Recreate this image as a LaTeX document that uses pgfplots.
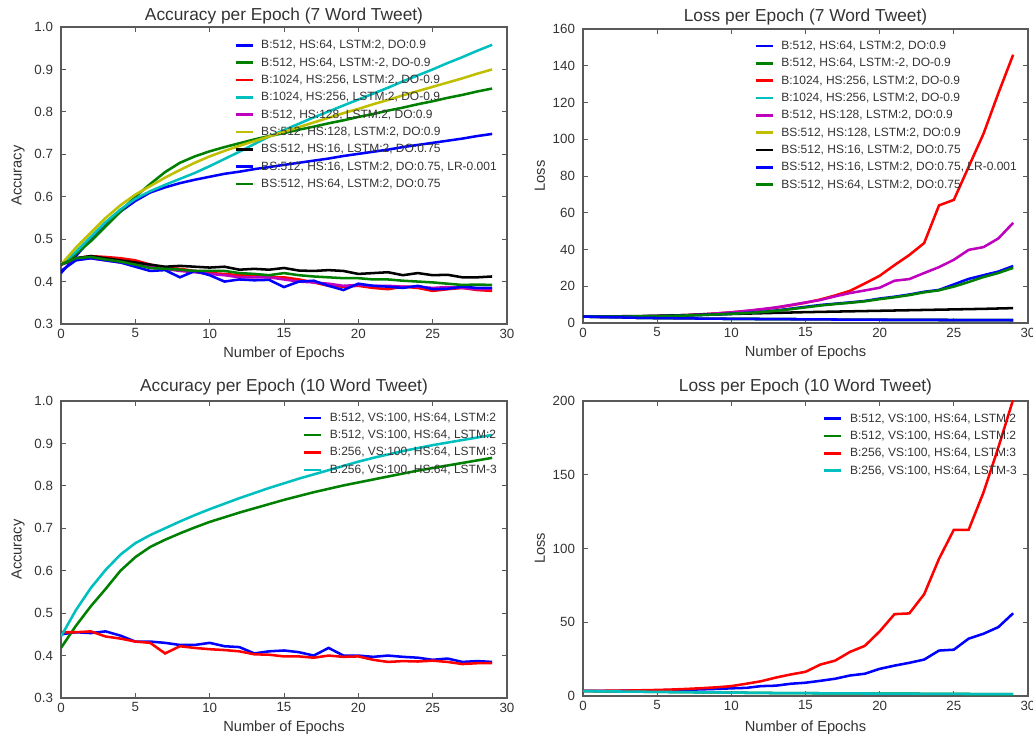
\documentclass[border=0pt]{standalone}
\usepackage{fontspec}
\setmainfont{Liberation Sans}
\usepackage{pgfplots}
\usepackage{pgfplotstable}
\pgfplotsset{compat=1.18}

\definecolor{mplblue}{rgb}{0,0,1}
\definecolor{mplgreen}{rgb}{0,0.5,0}
\definecolor{mplred}{rgb}{1,0,0}
\definecolor{mplcyan}{rgb}{0,0.75,0.75}
\definecolor{mplmag}{rgb}{0.75,0,0.75}
\definecolor{mplyel}{rgb}{0.75,0.75,0}
\definecolor{txt}{gray}{0.2}
\definecolor{frm}{gray}{0.35}

\pgfplotstableread{
ep trb   trg   vr    trc   vm    try   vk    vb    vg
0  0.420 0.440 0.440 0.440 0.440 0.440 0.440 0.425 0.440
1  0.460 0.465 0.455 0.470 0.452 0.480 0.455 0.450 0.455
2  0.500 0.495 0.460 0.505 0.455 0.515 0.460 0.455 0.458
3  0.535 0.530 0.458 0.540 0.450 0.550 0.455 0.450 0.452
4  0.565 0.565 0.455 0.570 0.445 0.580 0.450 0.445 0.447
5  0.590 0.600 0.450 0.595 0.440 0.605 0.445 0.435 0.440
6  0.610 0.630 0.440 0.613 0.435 0.625 0.440 0.425 0.432
7  0.622 0.658 0.432 0.628 0.430 0.645 0.435 0.427 0.430
8  0.632 0.680 0.430 0.642 0.425 0.663 0.437 0.410 0.428
9  0.640 0.695 0.425 0.656 0.422 0.680 0.435 0.425 0.425
10 0.647 0.707 0.420 0.672 0.418 0.695 0.433 0.415 0.425
11 0.654 0.717 0.418 0.689 0.415 0.708 0.435 0.400 0.425
12 0.659 0.726 0.415 0.706 0.410 0.720 0.428 0.405 0.420
13 0.665 0.735 0.413 0.724 0.410 0.731 0.430 0.403 0.418
14 0.670 0.743 0.410 0.742 0.410 0.742 0.428 0.404 0.415
15 0.675 0.750 0.410 0.757 0.405 0.753 0.432 0.387 0.420
16 0.680 0.758 0.405 0.772 0.400 0.764 0.426 0.400 0.415
17 0.685 0.765 0.398 0.787 0.398 0.775 0.425 0.402 0.412
18 0.690 0.773 0.390 0.801 0.395 0.786 0.427 0.390 0.410
19 0.696 0.780 0.388 0.815 0.390 0.797 0.425 0.380 0.408
20 0.701 0.788 0.390 0.829 0.392 0.807 0.418 0.395 0.408
21 0.706 0.795 0.385 0.843 0.390 0.818 0.420 0.390 0.405
22 0.711 0.803 0.382 0.857 0.390 0.828 0.422 0.388 0.405
23 0.717 0.810 0.388 0.872 0.388 0.839 0.415 0.385 0.402
24 0.722 0.818 0.385 0.886 0.388 0.849 0.420 0.390 0.400
25 0.727 0.825 0.378 0.900 0.385 0.859 0.415 0.382 0.398
26 0.732 0.833 0.382 0.915 0.387 0.869 0.416 0.383 0.395
27 0.737 0.840 0.385 0.929 0.385 0.879 0.410 0.388 0.392
28 0.743 0.848 0.380 0.944 0.382 0.890 0.410 0.385 0.393
29 0.748 0.855 0.378 0.958 0.383 0.900 0.412 0.385 0.392
}\accA

\pgfplotstableread{
ep lo   lr    lm    lk    lb    lg
0  3.50 3.5   3.5   3.50  3.50  3.50
1  3.30 3.4   3.4   3.55  3.45  3.45
2  3.10 3.4   3.4   3.60  3.45  3.45
3  2.95 3.5   3.5   3.70  3.50  3.50
4  2.80 3.6   3.6   3.80  3.60  3.60
5  2.70 3.8   3.8   3.90  3.75  3.75
6  2.60 4.0   4.0   4.10  3.90  3.90
7  2.50 4.3   4.3   4.30  4.10  4.10
8  2.42 4.7   4.7   4.50  4.35  4.35
9  2.35 5.2   5.2   4.70  4.65  4.65
10 2.28 5.8   5.8   4.90  5.00  5.00
11 2.22 6.5   6.6   5.10  5.50  5.40
12 2.16 7.3   7.5   5.30  6.00  5.90
13 2.10 8.3   8.5   5.50  6.80  6.60
14 2.05 9.6   9.8   5.70  7.80  7.50
15 2.00 11.0  11.2  5.90  8.80  8.50
16 1.95 12.8  12.5  6.05  9.80  9.50
17 1.90 15.0  14.5  6.20  10.5  10.3
18 1.86 17.5  16.3  6.35  11.2  11.0
19 1.82 21.5  17.7  6.50  12.0  11.8
20 1.78 25.7  19.2  6.65  13.3  13.0
21 1.74 31.5  23.0  6.80  14.3  14.0
22 1.70 37.0  23.9  6.95  15.5  15.2
23 1.67 43.5  27.2  7.10  17.0  16.7
24 1.64 64.0  30.4  7.25  18.0  17.8
25 1.61 67.0  34.4  7.40  21.0  19.8
26 1.58 85.0  39.8  7.55  24.0  22.3
27 1.55 103.0 41.3  7.70  26.0  25.0
28 1.52 125.0 46.0  7.90  28.0  27.2
29 1.50 146.0 54.5  8.10  31.0  30.0
}\lossA

\pgfplotstableread{
ep vb    tg    vr    tc
0  0.450 0.418 0.455 0.445
1  0.455 0.470 0.455 0.507
2  0.453 0.516 0.457 0.559
3  0.457 0.557 0.445 0.602
4  0.447 0.600 0.440 0.638
5  0.433 0.632 0.433 0.665
6  0.433 0.656 0.430 0.684
7  0.430 0.673 0.405 0.700
8  0.425 0.688 0.422 0.716
9  0.425 0.702 0.418 0.731
10 0.430 0.715 0.415 0.745
11 0.422 0.726 0.413 0.758
12 0.420 0.737 0.410 0.771
13 0.405 0.747 0.403 0.783
14 0.410 0.757 0.402 0.795
15 0.412 0.767 0.398 0.806
16 0.408 0.776 0.398 0.817
17 0.400 0.785 0.395 0.827
18 0.418 0.793 0.400 0.837
19 0.400 0.801 0.397 0.847
20 0.400 0.808 0.398 0.857
21 0.397 0.815 0.390 0.866
22 0.400 0.822 0.385 0.874
23 0.397 0.829 0.387 0.882
24 0.395 0.836 0.386 0.889
25 0.390 0.842 0.388 0.896
26 0.393 0.848 0.385 0.902
27 0.385 0.854 0.380 0.908
28 0.387 0.860 0.382 0.914
29 0.385 0.866 0.382 0.920
}\accB

\pgfplotstableread{
ep lb   lg   lr    lc
0  3.5  3.3  3.5   3.3
1  3.5  3.2  3.5   3.2
2  3.5  3.1  3.6   3.1
3  3.6  3.0  3.7   3.0
4  3.7  2.9  3.9   2.9
5  3.8  2.8  4.1   2.8
6  4.0  2.7  4.4   2.7
7  4.2  2.6  4.8   2.6
8  4.5  2.5  5.3   2.5
9  4.8  2.4  5.9   2.4
10 5.2  2.3  6.7   2.3
11 5.5  2.2  8.3   2.2
12 6.7  2.1  10.0  2.1
13 7.0  2.0  12.5  2.0
14 8.3  1.95 14.6  1.95
15 9.0  1.9  16.4  1.9
16 10.3 1.85 21.3  1.85
17 11.7 1.8  24.0  1.8
18 13.9 1.75 29.9  1.75
19 15.1 1.7  34.0  1.7
20 18.4 1.65 43.8  1.65
21 20.6 1.6  55.5  1.6
22 22.5 1.55 56.0  1.55
23 24.7 1.5  69.0  1.5
24 30.8 1.45 93.0  1.45
25 31.4 1.4  112.7 1.4
26 38.9 1.35 112.7 1.35
27 42.2 1.3  138.0 1.3
28 46.7 1.25 168.5 1.25
29 56.1 1.2  201.0 1.2
}\lossB

\pgfplotsset{
  mystyle/.style={
    scale only axis,
    xmin=0, xmax=30,
    xtick={0,5,...,30},
    tick align=inside,
    major tick length=4pt,
    axis line style={frm, line width=0.9pt},
    every tick/.style={frm, line width=0.6pt},
    tick label style={font=\fontsize{10}{12}\selectfont, text=txt},
    yticklabel style={xshift=-2.5pt},
    /pgf/number format/assume math mode=true,
    label style={font=\fontsize{11}{13}\selectfont, text=txt},
    title style={font=\fontsize{13}{15}\selectfont, text=txt, anchor=center},
    legend style={draw=none, fill=none, font=\fontsize{9}{10}\selectfont, text=txt,
      inner sep=0pt, row sep=1pt, column sep=4pt,
      nodes={inner sep=1.5pt, text height=7pt, text depth=2pt}, anchor=north east},
    legend cell align=left,
    legend image code/.code={\draw[##1] (0pt,0pt) -- (12.75pt,0pt);},
    every axis plot/.append style={line width=1.9pt},
    clip=true,
  },
  accstyle/.style={
    ymin=0.3, ymax=1.0, ytick={0.3,0.4,...,1.0},
    yticklabel style={/pgf/number format/.cd, fixed, fixed zerofill, precision=1},
    ylabel={Accuracy},
  },
}

\begin{document}
\begin{tikzpicture}
\useasboundingbox (0,0) rectangle (774.75pt,555pt);

% Top-left
\begin{axis}[mystyle, accstyle,
  at={(45.75pt,312pt)}, anchor=south west,
  width=334.5pt, height=222.75pt,
  title={Accuracy per Epoch (7 Word Tweet)},
  title style={at={(0.5,1.010)}},
  xlabel={Number of Epochs},
  xlabel style={at={(axis description cs:0.5,-0.099)}, anchor=center},
  ylabel style={at={(axis description cs:-0.0964,0.5)}, anchor=center},
  legend style={at={(axis description cs:0.982,0.966)}},
]
\addplot[mplblue] table[x=ep, y=trb] {\accA};
\addlegendentry{B:512, HS:64, LSTM:2, DO:0.9}
\addplot[mplgreen] table[x=ep, y=trg] {\accA};
\addlegendentry{B:512, HS:64, LSTM:-2, DO-0.9}
\addplot[mplred] table[x=ep, y=vr] {\accA};
\addlegendentry{B:1024, HS:256, LSTM:2, DO-0.9}
\addplot[mplcyan] table[x=ep, y=trc] {\accA};
\addlegendentry{B:1024, HS:256, LSTM:2, DO-0.9}
\addplot[mplmag] table[x=ep, y=vm] {\accA};
\addlegendentry{B:512, HS:128, LSTM:2, DO:0.9}
\addplot[mplyel] table[x=ep, y=try] {\accA};
\addlegendentry{BS:512, HS:128, LSTM:2, DO:0.9}
\addplot[black] table[x=ep, y=vk] {\accA};
\addlegendentry{BS:512, HS:16, LSTM:2, DO:0.75}
\addplot[mplblue] table[x=ep, y=vb] {\accA};
\addlegendentry{BS:512, HS:16, LSTM:2, DO:0.75, LR-0.001}
\addplot[mplgreen] table[x=ep, y=vg] {\accA};
\addlegendentry{BS:512, HS:64, LSTM:2, DO:0.75}
\end{axis}

% Top-right
\begin{axis}[mystyle,
  at={(437.25pt,312.75pt)}, anchor=south west,
  width=333.75pt, height=220.5pt,
  ymin=0, ymax=160, ytick={0,20,...,160},
  title={Loss per Epoch (7 Word Tweet)},
  title style={at={(0.5,1.012)}},
  xlabel={Number of Epochs},
  xlabel style={at={(axis description cs:0.5,-0.1)}, anchor=center},
  ylabel={Loss},
  ylabel style={at={(axis description cs:-0.0966,0.5)}, anchor=center},
  legend style={at={(axis description cs:0.98,0.97)}},
]
\addplot[mplblue] table[x=ep, y=lo] {\lossA};
\addlegendentry{B:512, HS:64, LSTM:2, DO:0.9}
\addplot[mplgreen] table[x=ep, y=lo] {\lossA};
\addlegendentry{B:512, HS:64, LSTM:-2, DO-0.9}
\addplot[mplred] table[x=ep, y=lr] {\lossA};
\addlegendentry{B:1024, HS:256, LSTM:2, DO-0.9}
\addplot[mplcyan] table[x=ep, y=lo] {\lossA};
\addlegendentry{B:1024, HS:256, LSTM:2, DO-0.9}
\addplot[mplmag] table[x=ep, y=lm] {\lossA};
\addlegendentry{B:512, HS:128, LSTM:2, DO:0.9}
\addplot[mplyel] table[x=ep, y=lo] {\lossA};
\addlegendentry{BS:512, HS:128, LSTM:2, DO:0.9}
\addplot[black] table[x=ep, y=lk] {\lossA};
\addlegendentry{BS:512, HS:16, LSTM:2, DO:0.75}
\addplot[mplblue] table[x=ep, y=lb] {\lossA};
\addlegendentry{BS:512, HS:16, LSTM:2, DO:0.75, LR-0.001}
\addplot[mplgreen] table[x=ep, y=lg] {\lossA};
\addlegendentry{BS:512, HS:64, LSTM:2, DO:0.75}
\addplot[mplblue, forget plot] table[x=ep, y=lo] {\lossA};
\end{axis}

% Bottom-left
\begin{axis}[mystyle, accstyle,
  at={(45.75pt,31.5pt)}, anchor=south west,
  width=334.5pt, height=222.75pt,
  title={Accuracy per Epoch (10 Word Tweet)},
  title style={at={(0.5,1.020)}},
  xlabel={Number of Epochs},
  xlabel style={at={(axis description cs:0.5,-0.099)}, anchor=center},
  ylabel style={at={(axis description cs:-0.0964,0.5)}, anchor=center},
  legend style={at={(axis description cs:0.982,0.971)}},
]
\addplot[mplblue] table[x=ep, y=vb] {\accB};
\addlegendentry{B:512, VS:100, HS:64, LSTM:2}
\addplot[mplgreen] table[x=ep, y=tg] {\accB};
\addlegendentry{B:512, VS:100, HS:64, LSTM:2}
\addplot[mplred] table[x=ep, y=vr] {\accB};
\addlegendentry{B:256, VS:100, HS:64, LSTM:3}
\addplot[mplcyan] table[x=ep, y=tc] {\accB};
\addlegendentry{B:256, VS:100, HS:64, LSTM-3}
\end{axis}

% Bottom-right
\begin{axis}[mystyle,
  at={(437.25pt,33pt)}, anchor=south west,
  width=333.75pt, height=221.25pt,
  ymin=0, ymax=200, ytick={0,50,...,200},
  title={Loss per Epoch (10 Word Tweet)},
  title style={at={(0.5,1.020)}},
  xlabel={Number of Epochs},
  xlabel style={at={(axis description cs:0.5,-0.106)}, anchor=center},
  ylabel={Loss},
  ylabel style={at={(axis description cs:-0.0966,0.5)}, anchor=center},
  legend style={at={(axis description cs:0.98,0.968)}},
]
\addplot[mplblue] table[x=ep, y=lb] {\lossB};
\addlegendentry{B:512, VS:100, HS:64, LSTM:2}
\addplot[mplgreen] table[x=ep, y=lg] {\lossB};
\addlegendentry{B:512, VS:100, HS:64, LSTM:2}
\addplot[mplred] table[x=ep, y=lr] {\lossB};
\addlegendentry{B:256, VS:100, HS:64, LSTM:3}
\addplot[mplcyan] table[x=ep, y=lc] {\lossB};
\addlegendentry{B:256, VS:100, HS:64, LSTM-3}
\end{axis}
\end{tikzpicture}
\end{document}
